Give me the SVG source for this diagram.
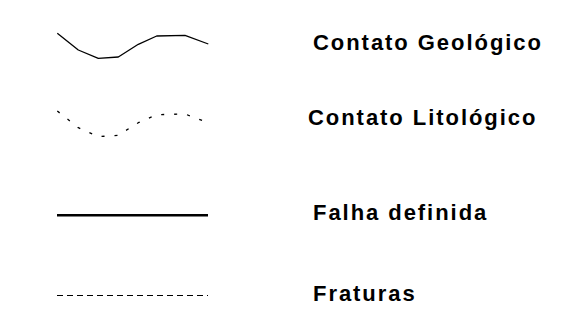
<svg xmlns="http://www.w3.org/2000/svg" width="575" height="321" viewBox="0 0 575 321">
<style>
.lbl{font-family:"Liberation Sans",Arial,sans-serif;font-weight:bold;font-size:22px;letter-spacing:1.95px;fill:#000}
.ln{fill:none;stroke:#000;stroke-linejoin:round}
</style>
<rect width="575" height="321" fill="#fff"/>
<g id="connectors">
<polyline id="geologico" class="ln" stroke-width="1.3" points="57.3,33.3 78.3,50 98.3,58.3 118.3,57 138.3,44.3 156.7,36 185,35.3 208.3,44"/>
<polyline id="litologico" class="ln" stroke-width="1.3" stroke-dasharray="3,10" points="57.3,111 78.3,127.7 98.3,136.7 118.3,135.3 138.3,122.7 156.7,114.7 185,114 208.3,122.7"/>
<line id="falha" class="ln" stroke-width="2.5" x1="57" y1="215.3" x2="208" y2="215.3"/>
<line id="fraturas" class="ln" stroke-width="1" stroke-dasharray="6,4" x1="57" y1="295.5" x2="208" y2="295.5"/>
</g>
<g id="label-geologico"><text class="lbl" x="313" y="49.5">Contato Geológico</text></g>
<g id="label-litologico"><text class="lbl" x="308" y="124.5">Contato Litológico</text></g>
<g id="label-falha"><text class="lbl" x="313" y="220">Falha definida</text></g>
<g id="label-fraturas"><text class="lbl" x="313" y="301">Fraturas</text></g>
</svg>
